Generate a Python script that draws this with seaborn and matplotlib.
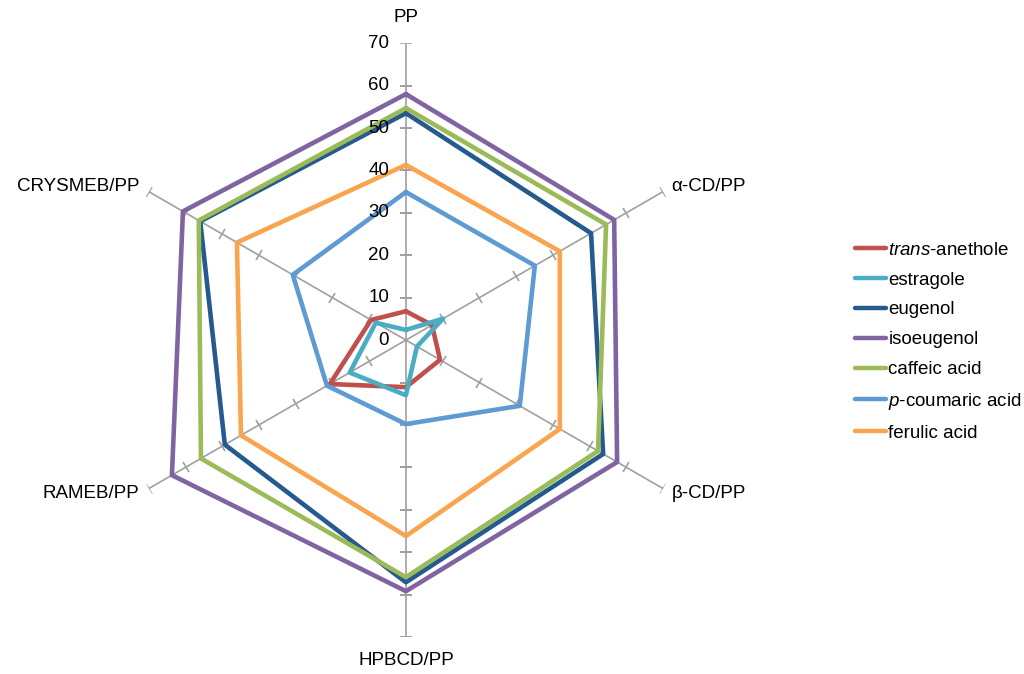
import numpy as np
import pandas as pd
import matplotlib
matplotlib.use('Agg')
import matplotlib.pyplot as plt
import matplotlib.transforms as mtransforms
from matplotlib.markers import MarkerStyle
import seaborn as sns

# axes of the radar, clockwise from the top
categories = ['PP', 'α-CD/PP', 'β-CD/PP', 'HPBCD/PP', 'RAMEB/PP', 'CRYSMEB/PP']
series_names = [r'$\it{trans}$-anethole', 'estragole', 'eugenol', 'isoeugenol',
                'caffeic acid', r'$\it{p}$-coumaric acid', 'ferulic acid']

trans_anethole = [6.8, 7.1, 9.3, 11.1, 20.7, 9.5]
estragole = [2.4, 10.1, 3.0, 13.0, 15.3, 8.2]
eugenol = [53.5, 50.4, 53.7, 57.1, 49.3, 56.0]
isoeugenol = [58.0, 56.7, 57.5, 59.2, 63.7, 60.7]
caffeic_acid = [54.7, 54.5, 52.3, 55.9, 55.8, 56.4]
p_coumaric_acid = [34.9, 35.1, 31.0, 19.8, 21.5, 30.8]
ferulic_acid = [41.3, 41.9, 41.9, 46.2, 44.9, 46.0]

r_ticks = [0, 10, 20, 30, 40, 50, 60, 70]

colors = ['#C0504D', '#4BACC6', '#245A8E', '#8064A2', '#9BBB59', '#5E9BD2', '#F9A54F']

all_values = [trans_anethole, estragole, eugenol, isoeugenol,
              caffeic_acid, p_coumaric_acid, ferulic_acid]

# long table, polygon closed by repeating the first point at 2*pi
angles = np.linspace(0, 2 * np.pi, len(categories), endpoint=False)
rows = []
for name, vals in zip(series_names, all_values):
    for a, v in zip(list(angles) + [2 * np.pi], list(vals) + [vals[0]]):
        rows.append({'theta': a, 'value': v, 'compound': name})
df = pd.DataFrame(rows)

sns.set_style('white')
plt.rcParams['font.family'] = ['Liberation Sans', 'DejaVu Sans']
plt.rcParams['text.color'] = 'black'
plt.rcParams['mathtext.fontset'] = 'custom'
plt.rcParams['mathtext.rm'] = 'Liberation Sans'
plt.rcParams['mathtext.it'] = 'Liberation Sans:italic'

fs = 13.5

fig = plt.figure(figsize=(10.24, 6.74), dpi=100)
ax = fig.add_axes([0.1064, 0.0549, 0.580, 0.881], projection='polar')
ax.set_theta_zero_location('N')
ax.set_theta_direction(-1)
ax.set_ylim(0, 70)
ax.grid(False)
ax.spines['polar'].set_visible(False)
ax.set_xticks([])
ax.set_yticks([])
ax.set_facecolor('none')

# spokes with small perpendicular ticks
spoke_col = '#A0A0A0'
for a in angles:
    ax.plot([a, a], [0, 70], color=spoke_col, lw=1.2, zorder=1)
    deg = np.degrees(a)
    m = MarkerStyle('_', transform=mtransforms.Affine2D().rotate_deg(-deg))
    ax.plot([a] * (len(r_ticks) - 1), r_ticks[1:], ls='none', marker=m,
            markersize=8, markeredgewidth=1.2, color=spoke_col, zorder=1)

sns.lineplot(data=df, x='theta', y='value', hue='compound', hue_order=series_names,
             palette=colors, sort=False, estimator=None, lw=3.3, ax=ax, legend=False,
             zorder=3)

# radial value labels beside the top spoke
shift = mtransforms.ScaledTranslation(-12 / 72, 0, fig.dpi_scale_trans)
for t in r_ticks:
    ax.text(0, t, str(t), ha='right', va='center', fontsize=fs,
            transform=ax.transData + shift)

# category labels
ax.text(angles[0], 76, categories[0], ha='center', va='center', fontsize=fs)
ax.text(angles[1], 72.3, categories[1], ha='left', va='center', fontsize=fs)
ax.text(angles[2], 72.3, categories[2], ha='left', va='center', fontsize=fs)
ax.text(angles[3], 75.5, categories[3], ha='center', va='center', fontsize=fs)
ax.text(angles[4], 72.5, categories[4], ha='right', va='center', fontsize=fs)
ax.text(angles[5], 72.6, categories[5], ha='right', va='center', fontsize=fs)

handles = [plt.Line2D([0], [0], color=c, lw=3.2) for c in colors]
fig.legend(handles, series_names, loc='center left', bbox_to_anchor=(0.818, 0.493),
           frameon=False, fontsize=fs, handlelength=1.7, handletextpad=0.1,
           labelspacing=0.68)

fig.savefig('out.png', dpi=100)
